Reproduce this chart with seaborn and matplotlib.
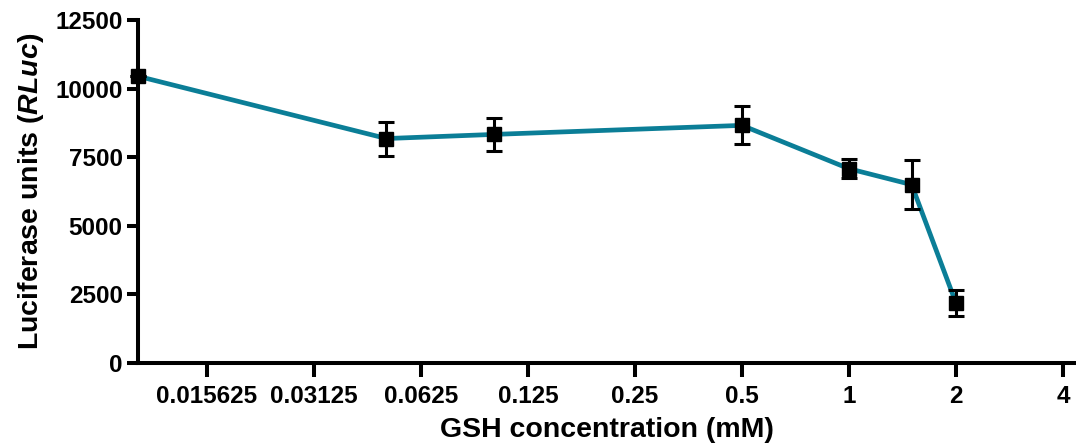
import matplotlib
matplotlib.use("Agg")
import matplotlib.pyplot as plt
import seaborn as sns
import pandas as pd
import numpy as np

# Data
gsh_mM = [0.01, 0.05, 0.1, 0.5, 1.0, 1.5, 2.0]
luciferase = [10450, 8180, 8330, 8660, 7080, 6500, 2180]
sem = [0, 620, 600, 690, 340, 890, 475]
xtick_values = [0.015625, 0.03125, 0.0625, 0.125, 0.25, 0.5, 1, 2, 4]
xtick_labels = ["0.015625", "0.03125", "0.0625", "0.125", "0.25", "0.5", "1", "2", "4"]
ytick_values = [0, 2500, 5000, 7500, 10000, 12500]

sns.set_style("ticks")
plt.rcParams['font.family'] = ['Liberation Sans', 'DejaVu Sans']
plt.rcParams['font.weight'] = 'bold'
plt.rcParams['text.color'] = 'black'
plt.rcParams['axes.labelcolor'] = 'black'
plt.rcParams['xtick.color'] = 'black'
plt.rcParams['ytick.color'] = 'black'
plt.rcParams['mathtext.fontset'] = 'custom'
plt.rcParams['mathtext.it'] = 'Liberation Sans:bold:italic'
plt.rcParams['mathtext.rm'] = 'Liberation Sans:bold'

df = pd.DataFrame({"GSH": gsh_mM, "RLU": luciferase, "SEM": sem})

fig = plt.figure(figsize=(10.76, 4.46), dpi=100)
ax = fig.add_axes([138/1076, 83/446, 938/1076, 343/446])

line_color = "#0B7E97"
sns.lineplot(data=df, x="GSH", y="RLU", ax=ax, color=line_color, linewidth=3.4,
             marker=None, zorder=2, clip_on=False)
ax.errorbar(df["GSH"], df["RLU"], yerr=df["SEM"], fmt="s", color="black",
            markersize=10.5, ecolor="black", elinewidth=2.2, capsize=6, capthick=2.2,
            zorder=3, clip_on=False)

ax.set_xscale("log", base=2)
ax.set_xlim(0.01, 4.35)
ax.set_ylim(0, 12500)
ax.set_xticks(xtick_values)
ax.set_xticklabels(xtick_labels)
ax.minorticks_off()
ax.set_yticks(ytick_values)
ax.set_yticklabels([str(v) for v in ytick_values])

for s in ["top", "right"]:
    ax.spines[s].set_visible(False)
for s in ["left", "bottom"]:
    ax.spines[s].set_linewidth(2.9)
    ax.spines[s].set_color("black")

ax.tick_params(axis="x", length=10, width=2.9, pad=6, labelsize=17.5, colors="black")
ax.tick_params(axis="y", length=8, width=2.9, pad=3, labelsize=17.5, colors="black")
for lbl in ax.get_xticklabels() + ax.get_yticklabels():
    lbl.set_fontweight("bold")
    lbl.set_color("black")

ax.set_xlabel("GSH concentration (mM)", fontsize=20.5, fontweight="bold", labelpad=6, color="black")
ax.set_ylabel("Luciferase units ($\\it{RLuc}$)", fontsize=20.5, fontweight="bold", labelpad=7, color="black")
ax.grid(False)

fig.savefig("out.png", dpi=100)
